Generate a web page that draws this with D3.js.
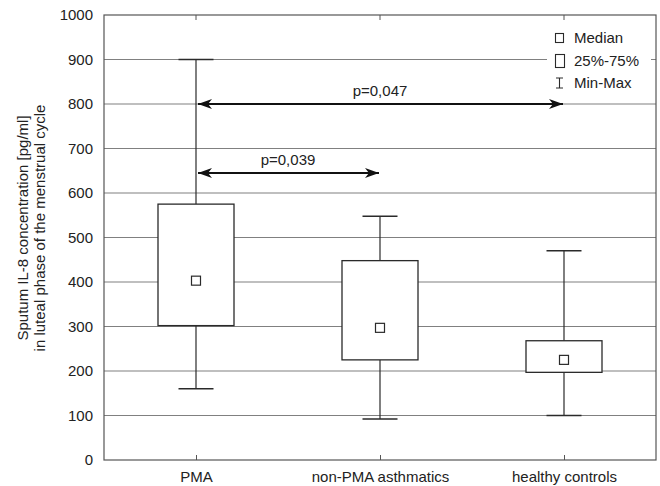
<!DOCTYPE html>
<html><head><meta charset="utf-8">
<script src="https://cdn.jsdelivr.net/npm/d3@7"></script>
<style>body{margin:0;background:#fff}svg{display:block}text{font-family:"Liberation Sans",Arial,sans-serif;fill:#222}</style>
</head><body><svg id="c" width="660" height="486"></svg>
<script>
const categories = ["PMA", "non-PMA asthmatics", "healthy controls"];
const mins    = [160, 92, 100];
const q1s     = [302, 225, 197];
const medians = [403, 297, 225];
const q3s     = [575, 448, 268];
const maxs    = [900, 548, 470];
const yTicks  = [0,100,200,300,400,500,600,700,800,900,1000];
const comparisons = [
  {from: 0, to: 2, y: 800, label: "p=0,047"},
  {from: 0, to: 1, y: 645, label: "p=0,039"}
];
const legendItems = ["Median", "25%-75%", "Min-Max"];

const FS = 15;
const svg = d3.select("#c");
const m = {l:104, r:656, t:15, b:460};
const x = d3.scalePoint().domain(categories).range([m.l, m.r]).padding(0.5);
const y = d3.scaleLinear().domain([0,1000]).range([m.b, m.t]);
const dark = "#2a2a2a", grid = "#808080";

// gridlines
svg.append("g").selectAll("line").data(yTicks.filter(d=>d>0&&d<1000)).join("line")
  .attr("x1", m.l).attr("x2", m.r).attr("y1", d=>y(d)).attr("y2", d=>y(d))
  .attr("stroke", grid).attr("stroke-width", 1.2);

// frame
svg.append("rect").attr("x", m.l).attr("y", m.t).attr("width", m.r-m.l).attr("height", m.b-m.t)
  .attr("fill","none").attr("stroke", "#555").attr("stroke-width", 1.2);

// y axis labels
const yAxis = d3.axisLeft(y).tickValues(yTicks).tickFormat(d3.format("d")).tickSize(0).tickPadding(11);
const ga = svg.append("g").attr("transform", `translate(${m.l},0)`).call(yAxis);
ga.attr("font-size", null).attr("font-family", null);
ga.select(".domain").remove();
ga.selectAll("text").attr("font-size", FS).attr("fill","#222");

// x axis
const xAxis = d3.axisBottom(x).tickSize(-5).tickPadding(11);
const gx = svg.append("g").attr("transform", `translate(0,${m.b})`).call(xAxis);
gx.attr("font-size", null).attr("font-family", null);
gx.select(".domain").remove();
gx.selectAll("line").attr("stroke", "#555");
gx.selectAll("text").attr("font-size", FS).attr("fill","#222");
// top ticks
svg.append("g").selectAll("line").data(categories).join("line")
  .attr("x1", d=>x(d)).attr("x2", d=>x(d)).attr("y1", m.t).attr("y2", m.t+5).attr("stroke","#555");

// y title
const yt = svg.append("text").attr("transform", `translate(28,228) rotate(-90)`)
  .attr("text-anchor","middle").attr("font-size", FS);
yt.append("tspan").attr("x",0).attr("dy",0).text("Sputum IL-8 concentration [pg/ml]");
yt.append("tspan").attr("x",0).attr("dy",17).text("in luteal phase of the menstrual cycle");

// boxes
const boxW = 76, capW = 35, medS = 9;
const data = categories.map((c,i)=>({c, min:mins[i], q1:q1s[i], med:medians[i], q3:q3s[i], max:maxs[i]}));
const gb = svg.append("g").selectAll("g").data(data).join("g");
gb.append("line").attr("x1", d=>x(d.c)).attr("x2", d=>x(d.c)).attr("y1", d=>y(d.max)).attr("y2", d=>y(d.q3)).attr("stroke", dark).attr("stroke-width",1.2);
gb.append("line").attr("x1", d=>x(d.c)).attr("x2", d=>x(d.c)).attr("y1", d=>y(d.q1)).attr("y2", d=>y(d.min)).attr("stroke", dark).attr("stroke-width",1.2);
gb.append("line").attr("x1", d=>x(d.c)-capW/2).attr("x2", d=>x(d.c)+capW/2).attr("y1", d=>y(d.max)).attr("y2", d=>y(d.max)).attr("stroke", dark).attr("stroke-width",1.5);
gb.append("line").attr("x1", d=>x(d.c)-capW/2).attr("x2", d=>x(d.c)+capW/2).attr("y1", d=>y(d.min)).attr("y2", d=>y(d.min)).attr("stroke", dark).attr("stroke-width",1.5);
gb.append("rect").attr("x", d=>x(d.c)-boxW/2).attr("width", boxW).attr("y", d=>y(d.q3)).attr("height", d=>y(d.q1)-y(d.q3))
  .attr("fill","#fff").attr("stroke", dark).attr("stroke-width",1.3);
gb.append("rect").attr("x", d=>x(d.c)-medS/2).attr("width", medS).attr("y", d=>y(d.med)-medS/2).attr("height", medS)
  .attr("fill","#fff").attr("stroke", dark).attr("stroke-width",1.2);

// arrows
const defs = svg.append("defs");
["s","e"].forEach(k=>{
  defs.append("marker").attr("id","ar"+k).attr("viewBox","0 0 14 10").attr("refX", k==="e"?14:0).attr("refY",5)
    .attr("markerWidth",14).attr("markerHeight",10).attr("markerUnits","userSpaceOnUse").attr("orient","auto")
    .append("path").attr("d", k==="e" ? "M0,0 L14,5 L0,10 L4,5 Z" : "M14,0 L0,5 L14,10 L10,5 Z").attr("fill","#111");
});
const ga2 = svg.append("g").selectAll("g").data(comparisons).join("g");
ga2.append("line").attr("x1", d=>x(categories[d.from])+2).attr("x2", d=>x(categories[d.to])-1)
  .attr("y1", d=>y(d.y)).attr("y2", d=>y(d.y)).attr("stroke","#111").attr("stroke-width",1.8)
  .attr("marker-start","url(#ars)").attr("marker-end","url(#are)");
ga2.append("text").attr("x", d=>(x(categories[d.from])+x(categories[d.to]))/2).attr("y", d=>y(d.y)-8)
  .attr("text-anchor","middle").attr("font-size",FS).text(d=>d.label);

// legend
const lg = svg.append("g");
lg.append("rect").attr("x",547).attr("y",26).attr("width",104).attr("height",68).attr("fill","#fff");
const ly = [38, 61, 83];
lg.append("rect").attr("x",555.5).attr("y",ly[0]-4.5).attr("width",8).attr("height",9).attr("fill","#fff").attr("stroke",dark).attr("stroke-width",1.1);
lg.append("rect").attr("x",555.5).attr("y",ly[1]-6.5).attr("width",9).attr("height",13).attr("fill","#fff").attr("stroke",dark).attr("stroke-width",1.1);
lg.append("path").attr("d",`M556,${ly[2]-5}H563M559.5,${ly[2]-5}V${ly[2]+5}M556,${ly[2]+5}H563`).attr("stroke",dark).attr("fill","none").attr("stroke-width",1.1);
lg.selectAll("text.l").data(legendItems).join("text").attr("class","l").attr("x",574).attr("y",(d,i)=>ly[i]+5)
  .attr("font-size",FS).text(d=>d);
</script></body></html>
